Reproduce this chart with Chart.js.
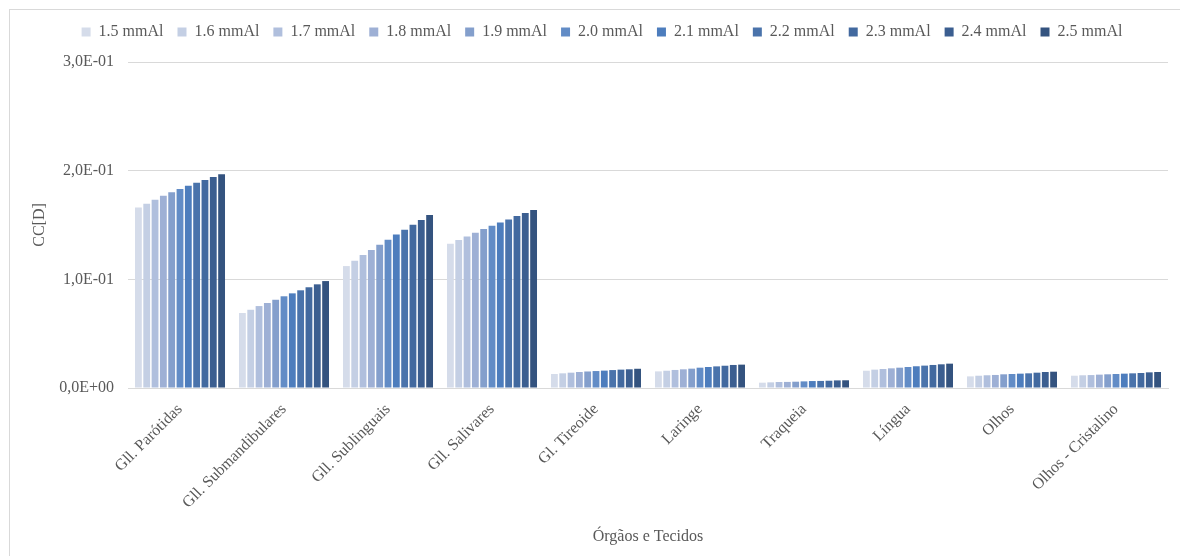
<!DOCTYPE html>
<html>
<head>
<meta charset="utf-8">
<script src="https://cdn.jsdelivr.net/npm/chart.js@4.4.1/dist/chart.umd.min.js"></script>
<style>
  html, body { margin: 0; padding: 0; background: #fff; }
  #wrap { position: relative; width: 1180px; height: 556px; }
  #frame { position: absolute; left: 9px; top: 9px; right: 0; bottom: 0; border-top: 1px solid #d9d9d9; border-left: 1px solid #d9d9d9; pointer-events: none; }
</style>
</head>
<body>
<div id="wrap">
  <canvas id="chart" width="1180" height="556"></canvas>
  <div id="frame"></div>
</div>
<script>
// Categories (organs / tissues)
const organs = ['Gll. Parótidas', 'Gll. Submandibulares', 'Gll. Sublinguais', 'Gll. Salivares', 'Gl. Tireoide',
  'Laringe', 'Traqueia', 'Língua', 'Olhos', 'Olhos - Cristalino'];

// Filtration series labels
const filters = ['1.5 mmAl', '1.6 mmAl', '1.7 mmAl', '1.8 mmAl', '1.9 mmAl', '2.0 mmAl',
  '2.1 mmAl', '2.2 mmAl', '2.3 mmAl', '2.4 mmAl', '2.5 mmAl'];

// CC[D] values per organ, one value per filtration (1.5 ... 2.5 mmAl)
const parotidas = [0.166, 0.1696, 0.1733, 0.1769, 0.1801, 0.1831, 0.1861, 0.1888, 0.1914, 0.1941, 0.1966];
const submandibulares = [0.069, 0.072, 0.0754, 0.0782, 0.0812, 0.0844, 0.0871, 0.0899, 0.0927, 0.0954, 0.0984];
const sublinguais = [0.1122, 0.1171, 0.1223, 0.1269, 0.1318, 0.1364, 0.1413, 0.1457, 0.1502, 0.1545, 0.1591];
const salivares = [0.1327, 0.1362, 0.1395, 0.1429, 0.1463, 0.1493, 0.1523, 0.1551, 0.1582, 0.161, 0.1638];
const tireoide = [0.0129, 0.0135, 0.0141, 0.0147, 0.0152, 0.0156, 0.016, 0.0165, 0.0169, 0.0172, 0.0177];
const laringe = [0.0153, 0.0159, 0.0166, 0.0172, 0.0178, 0.0187, 0.0193, 0.0199, 0.0205, 0.0212, 0.0215];
const traqueia = [0.0049, 0.0052, 0.0055, 0.0056, 0.0058, 0.0061, 0.0064, 0.0065, 0.0067, 0.007, 0.0071];
const lingua = [0.0159, 0.0169, 0.0175, 0.0181, 0.0187, 0.0193, 0.02, 0.0206, 0.0212, 0.0218, 0.0224];
const olhos = [0.0107, 0.0113, 0.0117, 0.012, 0.0126, 0.0129, 0.0132, 0.0135, 0.0141, 0.0147, 0.015];
const cristalino = [0.0113, 0.0117, 0.0119, 0.0123, 0.0126, 0.0129, 0.0132, 0.0135, 0.0138, 0.0144, 0.0147];

const colors = ['#d5dcea', '#c4cfe4', '#b0bfdd', '#9eb0d5', '#849fcc', '#628cc6',
  '#4d7dbd', '#4a73ab', '#42699f', '#3b5e90', '#34537f'];

const byOrgan = [parotidas, submandibulares, sublinguais, salivares, tireoide, laringe, traqueia, lingua, olhos, cristalino];

const textColor = '#595959';
const serif = 'Liberation Serif';

const datasets = filters.map(function (label, i) {
  return {
    label: label,
    data: byOrgan.map(function (row) { return row[i]; }),
    backgroundColor: colors[i],
    borderWidth: 0,
    barPercentage: 0.82,
    categoryPercentage: 0.88
  };
});

function sciLabel(v) {
  // 0.1 -> "1,0E-01"
  const parts = Number(v).toExponential(1).split('e');
  let exp = parseInt(parts[1], 10);
  const sign = exp < 0 ? '-' : '+';
  exp = Math.abs(exp);
  return parts[0].replace('.', ',') + 'E' + sign + (exp < 10 ? '0' + exp : exp);
}

// extra room under the legend so the plot starts lower, and nudge it right
const legendGap = {
  id: 'legendGap',
  beforeInit: function (chart) {
    const fit = chart.legend.fit;
    chart.legend.fit = function () {
      fit.bind(chart.legend)();
      this.height += 12;
    };
  },
  afterLayout: function (chart) {
    chart.legend.left += 12;
    chart.legend.right += 12;
  }
};

new Chart(document.getElementById('chart'), {
  type: 'bar',
  data: { labels: organs, datasets: datasets },
  plugins: [legendGap],
  options: {
    responsive: false,
    animation: false,
    layout: { padding: { top: 10, left: 12, right: 12, bottom: 0 } },
    plugins: {
      tooltip: { enabled: false },
      legend: {
        position: 'top',
        labels: {
          boxWidth: 9,
          boxHeight: 9,
          padding: 14,
          color: textColor,
          font: { family: serif, size: 16 }
        }
      }
    },
    scales: {
      x: {
        grid: { display: false },
        border: { color: '#d9d9d9' },
        ticks: {
          color: textColor,
          font: { family: serif, size: 16 },
          maxRotation: 45,
          minRotation: 45,
          padding: 4
        },
        title: {
          display: true,
          text: 'Órgãos e Tecidos',
          color: textColor,
          font: { family: serif, size: 16 },
          padding: { top: 0, bottom: 10 }
        },
        afterFit: function (scale) { scale.height = 556 - 388; }
      },
      y: {
        min: 0,
        max: 0.3,
        ticks: {
          stepSize: 0.1,
          color: textColor,
          font: { family: serif, size: 16 },
          padding: 14,
          callback: function (v) { return sciLabel(v); }
        },
        grid: { color: '#d9d9d9', drawTicks: false },
        border: { display: false },
        title: {
          display: true,
          text: 'CC[D]',
          color: textColor,
          font: { family: serif, size: 16 },
          padding: { top: 18, bottom: 0 }
        },
        afterFit: function (scale) { scale.width = 128 - 12; }
      }
    }
  }
});
</script>
</body>
</html>
